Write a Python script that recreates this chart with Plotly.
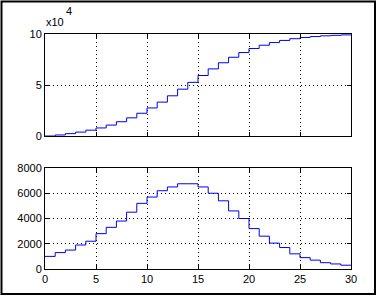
import plotly.graph_objects as go

# step index (left edge of each step), 0..29 plus final edge 30
steps = list(range(31))

# bottom panel: per-step values
rate = [1000, 1300, 1500, 1900, 2200, 2800, 3300, 3800, 4500, 5200,
        5700, 6200, 6500, 6750, 6750, 6500, 6000, 5400, 4600, 4000,
        3200, 2600, 2050, 1700, 1200, 900, 700, 500, 400, 300]

# top panel: accumulated values
total = [0, 1000, 2300, 3800, 5700, 7900, 10700, 14000, 17800, 22300,
         27500, 33200, 39400, 45900, 52600, 59300, 65800, 71800, 77200, 81800,
         85800, 89000, 91600, 93700, 95400, 96600, 97500, 98200, 98700, 99100]

top_ticks = [0, 50000, 100000]
top_tick_text = ["0", "5", "10"]
bottom_yticks = [0, 2000, 4000, 6000, 8000]
xticks = [0, 5, 10, 15, 20, 25, 30]

W, H = 378, 297
L, R, T, B = 45, 351, 34, 269
ph = B - T
pw = R - L
top_dom = [(B - 136) / ph, 1.0]
bot_dom = [0.0, (B - 168) / ph]


def px(x):
    return (x - L) / pw


def py(y):
    return (B - y) / ph


fig = go.Figure()
fig.add_trace(go.Scatter(x=steps, y=total + [total[-1]], mode="lines",
                         line=dict(color="#0000ee", width=1, shape="hv"),
                         xaxis="x", yaxis="y", showlegend=False))
fig.add_trace(go.Scatter(x=steps, y=rate + [rate[-1]], mode="lines",
                         line=dict(color="#0000ee", width=1, shape="hv"),
                         xaxis="x2", yaxis="y2", showlegend=False))

font = dict(family="Liberation Sans, Arial, sans-serif", size=11, color="black")
common = dict(showline=True, linecolor="black", linewidth=1, mirror="ticks",
              ticks="inside", ticklen=4, tickcolor="black",
              showgrid=True, gridcolor="black", gridwidth=1, griddash="1px,3px",
              zeroline=False, tickfont=font, automargin=False)

fig.update_layout(
    width=W, height=H,
    margin=dict(l=L, r=W - R, t=T, b=H - B, autoexpand=False),
    paper_bgcolor="white", plot_bgcolor="white",
    showlegend=False,
    xaxis=dict(domain=[0, 1], range=[0, 30], tickvals=xticks, showticklabels=False,
               anchor="y", **common),
    yaxis=dict(domain=top_dom, range=[0, 100000], tickvals=top_ticks,
               ticktext=top_tick_text, anchor="x", **common),
    xaxis2=dict(domain=[0, 1], range=[0, 30], tickvals=xticks, anchor="y2", **common),
    yaxis2=dict(domain=bot_dom, range=[0, 8000], tickvals=bottom_yticks,
                anchor="x2", **common),
    font=font,
)

fig.add_annotation(text="x10", xref="paper", yref="paper",
                   x=px(55), y=py(22.5), xanchor="center", yanchor="middle",
                   showarrow=False, font=font)
fig.add_annotation(text="4", xref="paper", yref="paper",
                   x=px(69), y=py(11), xanchor="center", yanchor="middle",
                   showarrow=False, font=font)

fig.add_shape(type="rect", xref="paper", yref="paper",
              x0=px(1.5), x1=px(375), y0=py(294), y1=py(1.5),
              line=dict(color="black", width=2), fillcolor="rgba(0,0,0,0)")

fig.write_html("out.html", config={"displayModeBar": False},
               post_script="document.body.style.margin='0';document.body.style.padding='0';")
